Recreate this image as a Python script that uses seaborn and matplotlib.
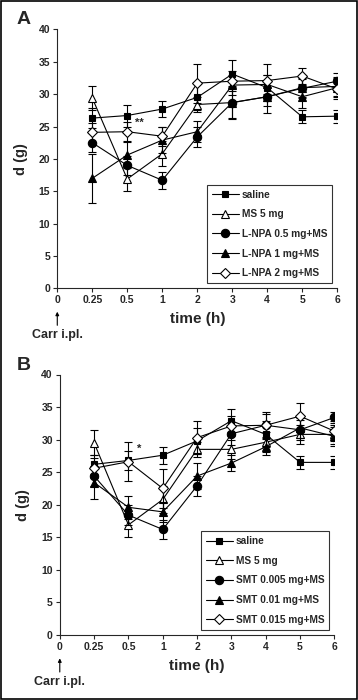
import numpy as np
import pandas as pd
import matplotlib
matplotlib.use("Agg")
import matplotlib.pyplot as plt
import seaborn as sns
from matplotlib.patches import Rectangle

# categorias do eixo x (espaçamento igual)
tick_labels = ["0", "0.25", "0.5", "1", "2", "3", "4", "5", "6"]
times = ["0.25", "0.5", "1", "2", "3", "4", "5", "6"]

# --- Painel A: L-NPA ---
a_saline = [26.3, 26.7, 27.7, 29.5, 33.1, 31.0, 26.5, 26.6]
a_saline_sem = [1.5, 1.7, 1.2, 2.0, 2.2, 2.0, 1.0, 1.0]
a_ms = [29.4, 16.9, 20.8, 28.4, 28.7, 29.6, 31.0, 31.2]
a_ms_sem = [1.9, 1.9, 1.9, 1.2, 2.4, 2.5, 1.5, 1.5]
a_low = [22.5, 19.0, 16.7, 23.4, 28.7, 29.6, 30.9, 32.0]
a_low_sem = [1.5, 1.5, 1.3, 1.5, 2.5, 1.5, 1.5, 1.2]
a_mid = [17.0, 20.6, 22.9, 24.2, 31.4, 31.5, 29.6, 31.0]
a_mid_sem = [3.8, 2.0, 2.0, 1.6, 1.5, 1.5, 1.8, 1.5]
a_high = [24.1, 24.2, 23.5, 31.7, 32.0, 32.1, 32.8, 30.8]
a_high_sem = [1.5, 1.5, 1.5, 3.0, 1.5, 2.5, 1.2, 1.5]
a_labels = ["saline", "MS 5 mg", "L-NPA 0.5 mg+MS", "L-NPA 1 mg+MS", "L-NPA 2 mg+MS"]

# --- Painel B: SMT ---
b_saline = [26.2, 26.8, 27.6, 29.8, 32.9, 30.8, 26.5, 26.5]
b_saline_sem = [1.5, 1.5, 1.3, 2.0, 1.8, 2.0, 1.0, 1.0]
b_ms = [29.5, 16.9, 20.8, 28.5, 28.5, 29.6, 30.8, 30.8]
b_ms_sem = [1.9, 1.9, 2.0, 1.2, 1.5, 1.5, 1.5, 1.5]
b_low = [24.4, 18.4, 16.2, 22.9, 30.9, 32.2, 31.5, 33.4]
b_low_sem = [1.5, 1.5, 1.5, 1.5, 1.8, 1.8, 1.5, 0.8]
b_mid = [23.4, 19.6, 18.9, 24.4, 26.4, 28.9, 31.8, 30.5]
b_mid_sem = [2.5, 1.8, 1.5, 2.0, 1.2, 1.2, 1.5, 1.5]
b_high = [25.6, 26.6, 22.5, 30.3, 32.1, 32.2, 33.6, 31.3]
b_high_sem = [1.5, 3.0, 3.0, 2.5, 1.5, 2.0, 2.0, 1.5]
b_labels = ["saline", "MS 5 mg", "SMT 0.005 mg+MS", "SMT 0.01 mg+MS", "SMT 0.015 mg+MS"]

markers = ["s", "^", "o", "^", "D"]
facecolors = ["black", "white", "black", "black", "white"]
msizes = [5, 6, 6, 6, 5]

sns.set_style("ticks")
plt.rcParams["font.family"] = ["Liberation Sans", "DejaVu Sans"]
plt.rcParams["font.weight"] = "bold"

fig = plt.figure(figsize=(3.58, 7.0), dpi=100)
ax_a = fig.add_axes([0.160, 0.588, 0.782, 0.370])
ax_b = fig.add_axes([0.167, 0.093, 0.767, 0.372])
fig.add_artist(Rectangle((0.003, 0.002), 0.994, 0.996, transform=fig.transFigure,
                         fill=False, edgecolor="black", linewidth=1.2))


def painel(ax, series, sems, labels, star, star_xy):
    x = np.arange(1, len(times) + 1)
    for i, (vals, sem, lab) in enumerate(zip(series, sems, labels)):
        ax.errorbar(x, vals, yerr=sem, fmt="none", ecolor="black", elinewidth=0.8,
                    capsize=3, capthick=0.8, zorder=2 + i)
        sns.lineplot(x=x, y=vals, ax=ax, color="black", linewidth=0.8,
                     marker=markers[i], markersize=msizes[i],
                     markerfacecolor=facecolors[i], markeredgecolor="black",
                     markeredgewidth=0.8, label=lab, zorder=3 + i)
    ax.set_xlim(0, 8)
    ax.set_ylim(0, 40)
    ax.set_xticks(range(len(tick_labels)))
    ax.set_xticklabels(tick_labels)
    ax.set_yticks(range(0, 41, 5))
    ax.tick_params(labelsize=7.5, length=3, width=0.8, pad=2)
    for t in ax.get_xticklabels() + ax.get_yticklabels():
        t.set_fontweight("bold")
    sns.despine(ax=ax)
    for s in ["left", "bottom"]:
        ax.spines[s].set_linewidth(0.8)
    ax.set_ylabel("d (g)", fontsize=10.5, fontweight="bold", labelpad=8)
    ax.set_xlabel("time (h)", fontsize=11, fontweight="bold", labelpad=5)
    leg = ax.legend(loc="lower right", bbox_to_anchor=(1.0, 0.0), frameon=True,
                    fancybox=False, edgecolor="black", fontsize=7.3,
                    handlelength=2.6, borderpad=0.5, labelspacing=0.95,
                    handletextpad=0.3)
    leg.get_frame().set_linewidth(0.8)
    for t in leg.get_texts():
        t.set_fontweight("bold")
    ax.text(star_xy[0], star_xy[1], star, fontsize=8, fontweight="bold",
            ha="center", va="center")
    # seta do carragenina
    ax.annotate("", xy=(0, -3.6), xytext=(0, -5.7), xycoords="data",
                textcoords="data", annotation_clip=False,
                arrowprops=dict(arrowstyle="-|>", color="black", lw=0.8,
                                shrinkA=0, shrinkB=0, mutation_scale=5))
    ax.text(0, -7.2, "Carr i.pl.", ha="center", va="center", fontsize=9,
            fontweight="bold", clip_on=False)


painel(ax_a, [a_saline, a_ms, a_low, a_mid, a_high],
       [a_saline_sem, a_ms_sem, a_low_sem, a_mid_sem, a_high_sem],
       a_labels, "**", (2.35, 25.5))
painel(ax_b, [b_saline, b_ms, b_low, b_mid, b_high],
       [b_saline_sem, b_ms_sem, b_low_sem, b_mid_sem, b_high_sem],
       b_labels, "*", (2.3, 28.6))

fig.text(24 / 358, 1 - 20 / 700, "A", fontsize=14, fontweight="bold",
         ha="center", va="center")
fig.text(24 / 358, 1 - 365 / 700, "B", fontsize=14, fontweight="bold",
         ha="center", va="center")

fig.savefig("out.png", dpi=100)
